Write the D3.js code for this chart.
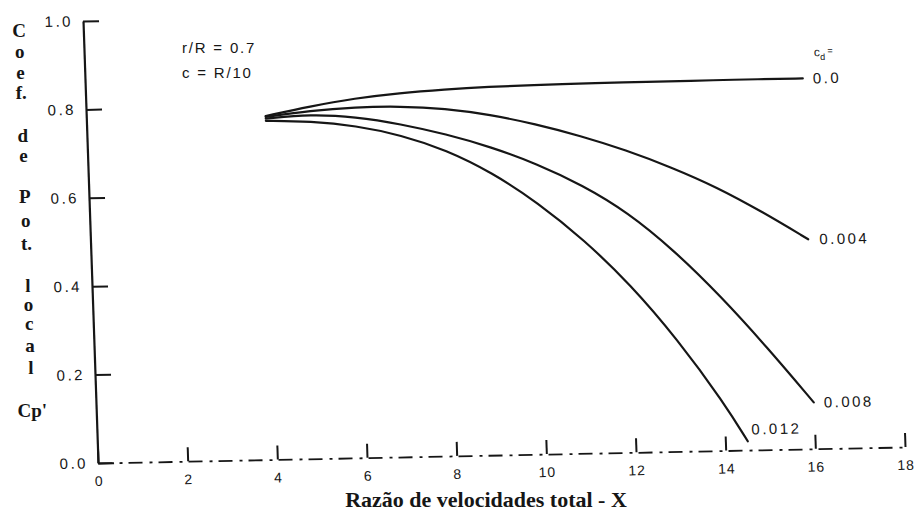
<!DOCTYPE html>
<html>
<head>
<meta charset="utf-8">
<script src="https://cdn.jsdelivr.net/npm/d3@7"></script>
<style>
  html, body { margin: 0; padding: 0; background: #fff; }
  svg { display: block; }
</style>
</head>
<body>
<script>
// ---------- data ----------
const xTickValues = [0, 2, 4, 6, 8, 10, 12, 14, 16, 18];
const xTickLabels = ["0", "2", "4", "6", "8", "10", "12", "14", "16", "18"];
const yTickValues = [0, 0.2, 0.4, 0.6, 0.8, 1.0];
const yTickLabels = ["0.0", "0.2", "0.4", "0.6", "0.8", "1.0"];

const cdLabels = ["0.0", "0.004", "0.008", "0.012"];

const xCd0   = [4, 5, 6, 7, 8, 9, 10, 11, 12, 13, 14, 15, 16];
const cpCd0  = [0.777, 0.797, 0.813, 0.823, 0.829, 0.833, 0.835, 0.836, 0.837, 0.837, 0.838, 0.838, 0.838];

const xCd004  = [4, 5, 6, 7, 8, 9, 10, 11, 12, 13, 14, 15, 16];
const cpCd004 = [0.775, 0.787, 0.793, 0.793, 0.786, 0.770, 0.747, 0.718, 0.684, 0.643, 0.596, 0.538, 0.474];

const xCd008  = [4, 5, 6, 7, 8, 9, 10, 11, 12, 13, 14, 15, 16];
const cpCd008 = [0.771, 0.779, 0.771, 0.753, 0.728, 0.697, 0.657, 0.607, 0.543, 0.455, 0.350, 0.232, 0.105];

const xCd012  = [4, 5, 6, 7, 8, 9, 10, 11, 12, 13, 14, 14.5];
const cpCd012 = [0.766, 0.763, 0.751, 0.728, 0.692, 0.639, 0.569, 0.483, 0.380, 0.255, 0.108, 0.02];

const yTitleParts = ["C", "o", "e", "f.", "d", "e", "P", "o", "t.", "l", "o", "c", "a", "l", "Cp'"];
const xTitle = "Razão de velocidades total - X";
const noteLines = ["r/R = 0.7", "c = R/10"];

// ---------- layout ----------
const W = 914, H = 521;
const svg = d3.select("body").append("svg").attr("width", W).attr("height", H);
svg.append("rect").attr("width", W).attr("height", H).attr("fill", "#fff");

const xs = d3.scaleLinear().domain([0, 18]).range([0, 807]);
const ys = d3.scaleLinear().domain([0, 1]).range([0, -442]);

// slight skew, as in the scanned figure
const plot = svg.append("g").attr("transform", "matrix(1,-0.01983,0.03394,1,98,463)");

const ink = "#161616";
const tickFont = "'Liberation Sans', Arial, sans-serif";

// Y axis
const yAxis = plot.append("g").call(
  d3.axisLeft(ys).tickValues(yTickValues).tickFormat((d, i) => yTickLabels[i])
    .tickSize(-16).tickSizeOuter(0).tickPadding(10));
yAxis.select(".domain").attr("stroke", ink).attr("stroke-width", 2.2);
yAxis.selectAll(".tick line").attr("stroke", ink).attr("stroke-width", 2);
yAxis.selectAll(".tick text").attr("fill", ink).style("font-family", tickFont)
  .style("font-size", "15px").style("letter-spacing", "2.5px");

// X axis
const xAxis = plot.append("g").call(
  d3.axisBottom(xs).tickValues(xTickValues).tickFormat((d, i) => xTickLabels[i])
    .tickSize(-14).tickSizeOuter(0).tickPadding(13));
xAxis.select(".domain").attr("stroke", ink).attr("stroke-width", 1.8)
  .attr("stroke-dasharray", "14,7,3,6");
xAxis.selectAll(".tick line").attr("stroke", ink).attr("stroke-width", 2);
xAxis.selectAll(".tick text").attr("fill", ink).style("font-family", tickFont)
  .style("font-size", "14px").style("letter-spacing", "1px");

// curves
const series = [
  { x: xCd0, y: cpCd0, label: cdLabels[0], dx: 10, dy: 0 },
  { x: xCd004, y: cpCd004, label: cdLabels[1], dx: 11, dy: 0 },
  { x: xCd008, y: cpCd008, label: cdLabels[2], dx: 10, dy: 0 },
  { x: xCd012, y: cpCd012, label: cdLabels[3], dx: 4, dy: -12 }
];
const line = d3.line().x(d => xs(d[0])).y(d => ys(d[1])).curve(d3.curveBasis);

series.forEach(s => {
  const pts = s.x.map((v, i) => [v, s.y[i]]);
  plot.append("path").datum(pts).attr("d", line)
    .attr("fill", "none").attr("stroke", ink).attr("stroke-width", 2.2)
    .attr("stroke-linecap", "round");
  const last = pts[pts.length - 1];
  plot.append("text")
    .attr("x", xs(last[0]) + s.dx).attr("y", ys(last[1]) + s.dy).attr("dy", "0.35em")
    .attr("fill", ink).style("font-family", tickFont).style("font-size", "15px")
    .style("letter-spacing", "2.5px").text(s.label);
});

// c_d = header above first label
{
  const last0 = [xCd0[xCd0.length - 1], cpCd0[cpCd0.length - 1]];
  const t = plot.append("text")
    .attr("x", xs(last0[0]) + 12).attr("y", ys(last0[1]) - 22)
    .attr("fill", ink).style("font-family", tickFont).style("font-size", "12px");
  t.append("tspan").text("c");
  t.append("tspan").attr("dy", 4).style("font-size", "9px").text("d");
  t.append("tspan").attr("dy", -6).style("font-size", "9px").text(" =");
}

// annotation
svg.selectAll("text.note").data(noteLines).enter().append("text")
  .attr("class", "note")
  .attr("x", 182).attr("y", (d, i) => 53 + i * 25)
  .attr("fill", ink).style("font-family", tickFont).style("font-size", "15px")
  .style("letter-spacing", "1.8px").text(d => d);

// vertical y title (stacked letters)
const yTitleY = [30, 51, 72, 92, 135, 155, 196, 220, 243, 285, 304, 323, 345, 367, 410];
svg.selectAll("text.ytitle").data(yTitleParts).enter().append("text")
  .attr("class", "ytitle")
  .attr("x", (d, i) => 19 + (yTitleY[i] - 30) * 0.035)
  .attr("y", (d, i) => yTitleY[i]).attr("dy", "0.35em")
  .attr("text-anchor", "middle").attr("fill", ink)
  .style("font-family", "'Liberation Serif', 'Times New Roman', serif")
  .style("font-weight", "bold").style("font-size", "19px").text(d => d);

// x title
svg.append("text").attr("x", 486).attr("y", 507).attr("text-anchor", "middle")
  .attr("fill", ink)
  .style("font-family", "'Liberation Serif', 'Times New Roman', serif")
  .style("font-weight", "bold").style("font-size", "22px").text(xTitle);
</script>
</body>
</html>
